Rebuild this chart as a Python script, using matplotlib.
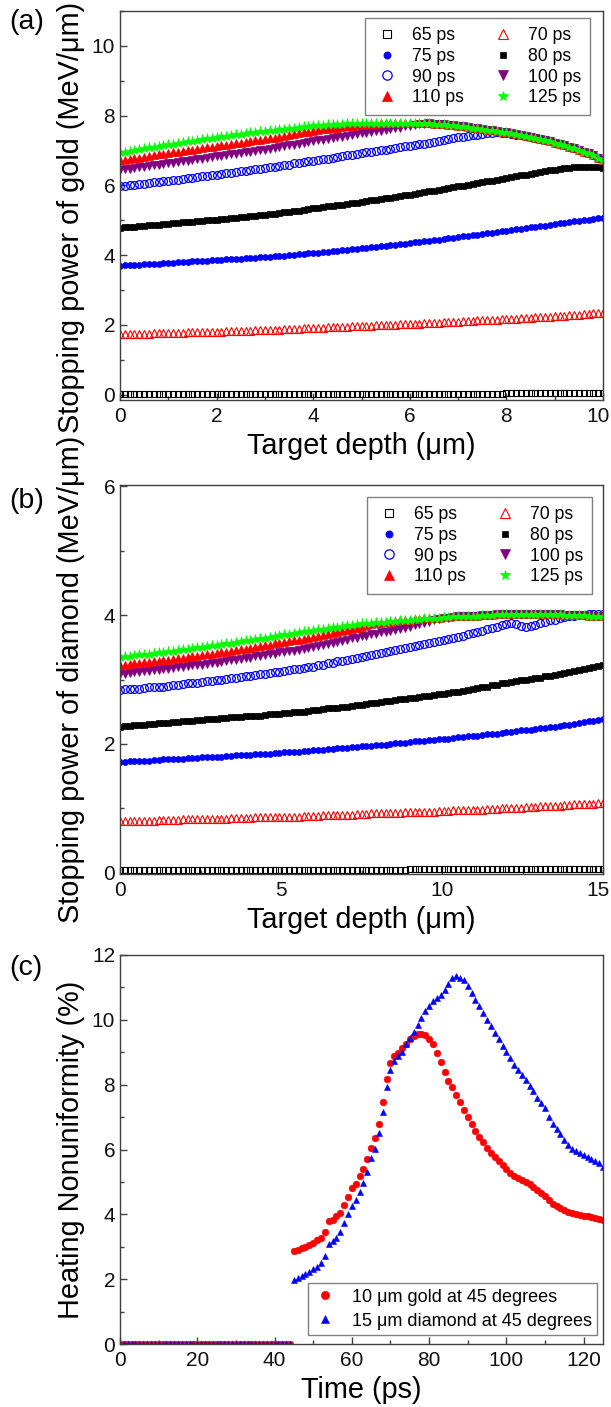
import numpy as np
import matplotlib
matplotlib.use("Agg")
import matplotlib.pyplot as plt
from matplotlib.ticker import MultipleLocator
from matplotlib.transforms import ScaledTranslation

plt.rcParams['font.family'] = ['Liberation Sans', 'DejaVu Sans']

# ---------------- data ----------------
times_labels = ["65 ps", "70 ps", "75 ps", "80 ps", "90 ps", "100 ps", "110 ps", "125 ps"]

depth_gold = np.linspace(0, 10, 101)
depth_diamond = np.linspace(0, 15, 101)

gold_65 = [
    0.02, 0.02, 0.02, 0.02, 0.02, 0.02, 0.02, 0.02, 0.02, 0.02, 0.02,
    0.02, 0.02, 0.02, 0.02, 0.02, 0.02, 0.02, 0.02, 0.02, 0.02,
    0.02, 0.02, 0.02, 0.02, 0.02, 0.02, 0.02, 0.02, 0.02, 0.02,
    0.02, 0.02, 0.02, 0.02, 0.02, 0.02, 0.02, 0.02, 0.02, 0.02,
    0.02, 0.02, 0.02, 0.02, 0.02, 0.02, 0.02, 0.02, 0.02, 0.03,
    0.03, 0.03, 0.03, 0.03, 0.03, 0.03, 0.03, 0.03, 0.03, 0.03,
    0.03, 0.03, 0.03, 0.03, 0.03, 0.03, 0.03, 0.03, 0.03, 0.03,
    0.03, 0.03, 0.03, 0.03, 0.03, 0.03, 0.03, 0.03, 0.03, 0.04,
    0.04, 0.04, 0.04, 0.04, 0.04, 0.04, 0.04, 0.04, 0.04, 0.05,
    0.05, 0.05, 0.05, 0.05, 0.05, 0.06, 0.06, 0.06, 0.06, 0.06]
gold_70 = [
    1.73, 1.73, 1.74, 1.74, 1.75, 1.75, 1.75, 1.76, 1.76, 1.77, 1.77,
    1.77, 1.78, 1.78, 1.79, 1.79, 1.79, 1.80, 1.80, 1.81, 1.81,
    1.81, 1.82, 1.82, 1.83, 1.83, 1.84, 1.84, 1.85, 1.85, 1.86,
    1.86, 1.87, 1.87, 1.88, 1.88, 1.89, 1.89, 1.90, 1.90, 1.91,
    1.92, 1.92, 1.93, 1.93, 1.94, 1.94, 1.95, 1.96, 1.96, 1.97,
    1.98, 1.98, 1.99, 1.99, 2.00, 2.00, 2.01, 2.02, 2.02, 2.03,
    2.04, 2.04, 2.05, 2.06, 2.06, 2.07, 2.08, 2.08, 2.09, 2.10,
    2.11, 2.11, 2.12, 2.13, 2.13, 2.14, 2.15, 2.15, 2.16, 2.17,
    2.18, 2.18, 2.19, 2.20, 2.21, 2.22, 2.22, 2.23, 2.24, 2.25,
    2.26, 2.27, 2.28, 2.29, 2.30, 2.31, 2.32, 2.33, 2.34, 2.35]
gold_75 = [
    3.70, 3.71, 3.72, 3.72, 3.73, 3.74, 3.75, 3.76, 3.76, 3.77, 3.78,
    3.79, 3.80, 3.80, 3.81, 3.82, 3.83, 3.84, 3.84, 3.85, 3.86,
    3.87, 3.88, 3.89, 3.90, 3.90, 3.91, 3.92, 3.93, 3.94, 3.95,
    3.96, 3.97, 3.98, 3.99, 4.00, 4.02, 4.03, 4.04, 4.05, 4.06,
    4.07, 4.09, 4.10, 4.12, 4.13, 4.14, 4.16, 4.17, 4.19, 4.20,
    4.21, 4.23, 4.24, 4.26, 4.27, 4.29, 4.30, 4.32, 4.33, 4.35,
    4.37, 4.38, 4.40, 4.42, 4.43, 4.45, 4.47, 4.49, 4.50, 4.52,
    4.54, 4.56, 4.58, 4.59, 4.61, 4.63, 4.65, 4.67, 4.68, 4.70,
    4.72, 4.74, 4.76, 4.78, 4.80, 4.81, 4.83, 4.85, 4.87, 4.89,
    4.91, 4.93, 4.95, 4.97, 4.99, 5.00, 5.02, 5.04, 5.06, 5.08]
gold_80 = [
    4.79, 4.80, 4.81, 4.82, 4.83, 4.84, 4.86, 4.87, 4.88, 4.89, 4.90,
    4.91, 4.92, 4.94, 4.95, 4.96, 4.97, 4.98, 5.00, 5.01, 5.02,
    5.03, 5.05, 5.06, 5.08, 5.09, 5.10, 5.12, 5.13, 5.15, 5.16,
    5.18, 5.19, 5.21, 5.23, 5.25, 5.27, 5.28, 5.30, 5.32, 5.34,
    5.36, 5.38, 5.40, 5.42, 5.44, 5.45, 5.47, 5.49, 5.51, 5.53,
    5.55, 5.57, 5.59, 5.61, 5.63, 5.65, 5.68, 5.70, 5.72, 5.74,
    5.76, 5.78, 5.81, 5.83, 5.85, 5.88, 5.90, 5.92, 5.95, 5.97,
    5.99, 6.02, 6.04, 6.07, 6.09, 6.12, 6.14, 6.17, 6.19, 6.22,
    6.24, 6.27, 6.29, 6.31, 6.34, 6.36, 6.38, 6.41, 6.43, 6.45,
    6.47, 6.49, 6.50, 6.52, 6.53, 6.54, 6.54, 6.53, 6.52, 6.50]
gold_90 = [
    5.97, 5.99, 6.00, 6.02, 6.04, 6.05, 6.07, 6.09, 6.11, 6.12, 6.14,
    6.16, 6.17, 6.19, 6.21, 6.22, 6.24, 6.26, 6.28, 6.29, 6.31,
    6.33, 6.35, 6.37, 6.39, 6.40, 6.42, 6.44, 6.46, 6.48, 6.50,
    6.52, 6.54, 6.56, 6.58, 6.60, 6.63, 6.65, 6.67, 6.69, 6.71,
    6.73, 6.75, 6.77, 6.80, 6.82, 6.84, 6.86, 6.88, 6.91, 6.93,
    6.95, 6.97, 6.99, 7.01, 7.03, 7.05, 7.08, 7.10, 7.12, 7.14,
    7.16, 7.18, 7.20, 7.22, 7.25, 7.27, 7.30, 7.32, 7.35, 7.38,
    7.40, 7.42, 7.44, 7.46, 7.48, 7.50, 7.51, 7.52, 7.51, 7.50,
    7.48, 7.46, 7.44, 7.41, 7.38, 7.35, 7.32, 7.29, 7.26, 7.23,
    7.19, 7.15, 7.11, 7.07, 7.02, 6.97, 6.92, 6.86, 6.80, 6.74]
gold_100 = [
    6.45, 6.47, 6.48, 6.50, 6.52, 6.54, 6.56, 6.58, 6.60, 6.61, 6.63,
    6.65, 6.67, 6.69, 6.71, 6.73, 6.75, 6.77, 6.79, 6.81, 6.83,
    6.85, 6.87, 6.89, 6.91, 6.93, 6.95, 6.97, 6.99, 7.01, 7.03,
    7.05, 7.08, 7.10, 7.13, 7.15, 7.17, 7.20, 7.22, 7.25, 7.27,
    7.29, 7.31, 7.34, 7.36, 7.38, 7.40, 7.42, 7.45, 7.47, 7.49,
    7.51, 7.53, 7.55, 7.57, 7.60, 7.62, 7.64, 7.66, 7.69, 7.71,
    7.74, 7.76, 7.77, 7.78, 7.77, 7.76, 7.75, 7.73, 7.72, 7.71,
    7.69, 7.68, 7.66, 7.64, 7.62, 7.60, 7.58, 7.56, 7.54, 7.52,
    7.49, 7.47, 7.44, 7.41, 7.38, 7.35, 7.32, 7.29, 7.26, 7.23,
    7.19, 7.15, 7.11, 7.07, 7.02, 6.97, 6.92, 6.86, 6.80, 6.74]
gold_110 = [
    6.72, 6.74, 6.76, 6.78, 6.80, 6.82, 6.85, 6.87, 6.89, 6.91, 6.93,
    6.95, 6.97, 6.99, 7.01, 7.03, 7.05, 7.07, 7.09, 7.11, 7.13,
    7.15, 7.17, 7.19, 7.21, 7.23, 7.25, 7.27, 7.29, 7.31, 7.33,
    7.35, 7.37, 7.40, 7.42, 7.44, 7.47, 7.49, 7.52, 7.54, 7.57,
    7.59, 7.61, 7.62, 7.64, 7.66, 7.68, 7.69, 7.71, 7.72, 7.74,
    7.75, 7.76, 7.77, 7.78, 7.79, 7.79, 7.80, 7.80, 7.80, 7.80,
    7.80, 7.79, 7.79, 7.78, 7.77, 7.76, 7.75, 7.73, 7.72, 7.71,
    7.69, 7.68, 7.66, 7.64, 7.62, 7.60, 7.58, 7.56, 7.54, 7.52,
    7.49, 7.47, 7.44, 7.41, 7.38, 7.35, 7.32, 7.29, 7.26, 7.23,
    7.19, 7.15, 7.11, 7.07, 7.02, 6.97, 6.92, 6.86, 6.80, 6.74]
gold_125 = [
    6.95, 6.97, 7.00, 7.02, 7.04, 7.07, 7.09, 7.11, 7.14, 7.16, 7.18,
    7.20, 7.22, 7.24, 7.26, 7.28, 7.31, 7.33, 7.35, 7.37, 7.39,
    7.41, 7.43, 7.45, 7.47, 7.48, 7.50, 7.52, 7.54, 7.55, 7.57,
    7.59, 7.60, 7.62, 7.63, 7.65, 7.66, 7.68, 7.69, 7.71, 7.72,
    7.73, 7.74, 7.75, 7.76, 7.76, 7.77, 7.78, 7.78, 7.79, 7.79,
    7.79, 7.80, 7.80, 7.80, 7.80, 7.80, 7.80, 7.80, 7.80, 7.80,
    7.80, 7.79, 7.79, 7.78, 7.77, 7.76, 7.75, 7.73, 7.72, 7.71,
    7.69, 7.68, 7.66, 7.64, 7.62, 7.60, 7.58, 7.56, 7.54, 7.52,
    7.49, 7.47, 7.44, 7.41, 7.38, 7.35, 7.32, 7.29, 7.26, 7.23,
    7.19, 7.15, 7.11, 7.07, 7.02, 6.97, 6.92, 6.86, 6.80, 6.74]

dia_65 = [
    0.04, 0.04, 0.04, 0.04, 0.04, 0.04, 0.04, 0.04, 0.04, 0.04, 0.04,
    0.04, 0.04, 0.04, 0.04, 0.04, 0.04, 0.04, 0.04, 0.04, 0.04,
    0.04, 0.04, 0.04, 0.04, 0.04, 0.04, 0.04, 0.04, 0.04, 0.04,
    0.04, 0.04, 0.04, 0.04, 0.04, 0.04, 0.04, 0.04, 0.04, 0.04,
    0.04, 0.04, 0.04, 0.04, 0.04, 0.04, 0.04, 0.04, 0.04, 0.04,
    0.04, 0.04, 0.04, 0.04, 0.04, 0.04, 0.04, 0.04, 0.04, 0.05,
    0.05, 0.05, 0.05, 0.05, 0.05, 0.05, 0.05, 0.05, 0.05, 0.05,
    0.05, 0.05, 0.05, 0.05, 0.05, 0.05, 0.05, 0.05, 0.05, 0.05,
    0.05, 0.05, 0.05, 0.05, 0.05, 0.05, 0.05, 0.05, 0.05, 0.06,
    0.06, 0.06, 0.06, 0.06, 0.06, 0.06, 0.06, 0.06, 0.06, 0.06]
dia_70 = [
    0.80, 0.80, 0.80, 0.81, 0.81, 0.81, 0.81, 0.81, 0.82, 0.82,
    0.82, 0.82, 0.82, 0.83, 0.83, 0.83, 0.83, 0.83, 0.84, 0.84,
    0.84, 0.84, 0.84, 0.85, 0.85, 0.85, 0.85, 0.85, 0.86, 0.86,
    0.86, 0.86, 0.86, 0.87, 0.87, 0.87, 0.87, 0.87, 0.88, 0.88,
    0.88, 0.88, 0.89, 0.89, 0.89, 0.89, 0.90, 0.90, 0.90, 0.91,
    0.91, 0.91, 0.92, 0.92, 0.92, 0.92, 0.93, 0.93, 0.93, 0.94,
    0.94, 0.94, 0.95, 0.95, 0.95, 0.95, 0.96, 0.96, 0.96, 0.97,
    0.97, 0.97, 0.98, 0.98, 0.98, 0.98, 0.99, 0.99, 0.99, 1.00,
    1.00, 1.00, 1.01, 1.01, 1.02, 1.02, 1.02, 1.03, 1.03, 1.04,
    1.04, 1.04, 1.05, 1.05, 1.06, 1.06, 1.06, 1.07, 1.07, 1.08, 1.08]
dia_75 = [
    1.72, 1.72, 1.73, 1.73, 1.74, 1.74, 1.74, 1.75, 1.75, 1.76,
    1.76, 1.76, 1.77, 1.77, 1.78, 1.78, 1.78, 1.79, 1.79, 1.80,
    1.80, 1.80, 1.81, 1.81, 1.82, 1.82, 1.83, 1.83, 1.84, 1.84,
    1.85, 1.85, 1.86, 1.86, 1.87, 1.87, 1.88, 1.88, 1.89, 1.89,
    1.90, 1.91, 1.91, 1.92, 1.92, 1.93, 1.94, 1.94, 1.95, 1.95,
    1.96, 1.97, 1.97, 1.98, 1.99, 1.99, 2.00, 2.01, 2.01, 2.02,
    2.03, 2.04, 2.04, 2.05, 2.06, 2.06, 2.07, 2.08, 2.08, 2.09,
    2.10, 2.11, 2.12, 2.12, 2.13, 2.14, 2.15, 2.16, 2.16, 2.17,
    2.18, 2.19, 2.20, 2.21, 2.22, 2.22, 2.23, 2.24, 2.25, 2.26,
    2.27, 2.28, 2.29, 2.30, 2.31, 2.33, 2.34, 2.35, 2.36, 2.37, 2.38]
dia_80 = [
    2.27, 2.28, 2.28, 2.29, 2.29, 2.30, 2.31, 2.31, 2.32, 2.32,
    2.33, 2.34, 2.34, 2.35, 2.35, 2.36, 2.37, 2.37, 2.38, 2.38,
    2.39, 2.40, 2.40, 2.41, 2.41, 2.42, 2.43, 2.43, 2.44, 2.44,
    2.45, 2.46, 2.46, 2.47, 2.48, 2.48, 2.49, 2.50, 2.50, 2.51,
    2.52, 2.53, 2.54, 2.55, 2.56, 2.56, 2.57, 2.58, 2.59, 2.60,
    2.61, 2.62, 2.63, 2.64, 2.65, 2.66, 2.67, 2.68, 2.69, 2.70,
    2.71, 2.72, 2.73, 2.74, 2.75, 2.76, 2.77, 2.78, 2.79, 2.80,
    2.81, 2.82, 2.84, 2.85, 2.87, 2.88, 2.89, 2.91, 2.92, 2.94,
    2.95, 2.96, 2.97, 2.99, 3.00, 3.01, 3.02, 3.03, 3.05, 3.06,
    3.07, 3.09, 3.10, 3.12, 3.13, 3.15, 3.16, 3.18, 3.19, 3.21, 3.22]
dia_90 = [
    2.84, 2.85, 2.85, 2.86, 2.86, 2.87, 2.88, 2.88, 2.89, 2.89,
    2.90, 2.91, 2.92, 2.93, 2.94, 2.95, 2.95, 2.96, 2.97, 2.98,
    2.99, 3.00, 3.01, 3.02, 3.03, 3.04, 3.05, 3.06, 3.07, 3.08,
    3.09, 3.10, 3.11, 3.12, 3.13, 3.15, 3.16, 3.17, 3.18, 3.19,
    3.20, 3.22, 3.23, 3.25, 3.26, 3.28, 3.29, 3.31, 3.32, 3.34,
    3.35, 3.37, 3.38, 3.40, 3.41, 3.43, 3.44, 3.46, 3.47, 3.49,
    3.50, 3.52, 3.53, 3.55, 3.56, 3.58, 3.60, 3.61, 3.63, 3.64,
    3.66, 3.68, 3.70, 3.72, 3.74, 3.76, 3.78, 3.80, 3.82, 3.84,
    3.86, 3.87, 3.86, 3.83, 3.82, 3.83, 3.85, 3.88, 3.90, 3.92,
    3.93, 3.95, 3.97, 3.98, 3.99, 4.00, 4.00, 4.01, 4.01, 4.01, 4.01]
dia_100 = [
    3.08, 3.09, 3.10, 3.11, 3.12, 3.13, 3.13, 3.14, 3.15, 3.16,
    3.17, 3.18, 3.19, 3.20, 3.21, 3.22, 3.22, 3.23, 3.24, 3.25,
    3.26, 3.27, 3.28, 3.30, 3.31, 3.32, 3.33, 3.34, 3.36, 3.37,
    3.38, 3.39, 3.40, 3.42, 3.43, 3.44, 3.45, 3.46, 3.48, 3.49,
    3.50, 3.52, 3.53, 3.55, 3.57, 3.59, 3.60, 3.62, 3.64, 3.65,
    3.67, 3.68, 3.70, 3.71, 3.73, 3.74, 3.76, 3.77, 3.79, 3.80,
    3.82, 3.84, 3.86, 3.88, 3.90, 3.92, 3.94, 3.95, 3.96, 3.97,
    3.98, 3.98, 3.99, 3.99, 3.99, 4.00, 4.00, 4.00, 4.01, 4.01,
    4.01, 4.01, 4.01, 4.02, 4.02, 4.02, 4.02, 4.01, 4.01, 4.01,
    4.01, 4.01, 4.00, 4.00, 4.00, 4.00, 4.00, 3.99, 3.99, 3.99, 3.99]
dia_110 = [
    3.22, 3.23, 3.24, 3.25, 3.26, 3.27, 3.27, 3.28, 3.29, 3.30,
    3.31, 3.32, 3.33, 3.34, 3.35, 3.36, 3.37, 3.38, 3.39, 3.40,
    3.41, 3.42, 3.43, 3.45, 3.46, 3.47, 3.48, 3.49, 3.51, 3.52,
    3.53, 3.54, 3.56, 3.57, 3.58, 3.60, 3.61, 3.62, 3.63, 3.65,
    3.66, 3.68, 3.69, 3.71, 3.72, 3.74, 3.76, 3.77, 3.79, 3.80,
    3.82, 3.84, 3.86, 3.87, 3.88, 3.89, 3.90, 3.91, 3.92, 3.92,
    3.93, 3.94, 3.94, 3.95, 3.95, 3.96, 3.96, 3.97, 3.97, 3.98,
    3.98, 3.98, 3.99, 3.99, 3.99, 4.00, 4.00, 4.00, 4.01, 4.01,
    4.01, 4.01, 4.01, 4.02, 4.02, 4.02, 4.02, 4.01, 4.01, 4.01,
    4.01, 4.01, 4.00, 4.00, 4.00, 4.00, 4.00, 3.99, 3.99, 3.99, 3.99]
dia_125 = [
    3.35, 3.36, 3.37, 3.38, 3.39, 3.40, 3.40, 3.41, 3.42, 3.43,
    3.44, 3.45, 3.46, 3.47, 3.48, 3.49, 3.50, 3.51, 3.52, 3.53,
    3.54, 3.55, 3.56, 3.57, 3.58, 3.60, 3.61, 3.62, 3.63, 3.64,
    3.65, 3.66, 3.67, 3.69, 3.70, 3.71, 3.72, 3.73, 3.75, 3.76,
    3.77, 3.78, 3.79, 3.80, 3.81, 3.82, 3.83, 3.84, 3.85, 3.86,
    3.87, 3.88, 3.88, 3.89, 3.89, 3.90, 3.91, 3.91, 3.92, 3.92,
    3.93, 3.94, 3.94, 3.95, 3.95, 3.96, 3.96, 3.97, 3.97, 3.98,
    3.98, 3.98, 3.99, 3.99, 3.99, 4.00, 4.00, 4.00, 4.01, 4.01,
    4.01, 4.01, 4.01, 4.02, 4.02, 4.02, 4.02, 4.01, 4.01, 4.01,
    4.01, 4.01, 4.00, 4.00, 4.00, 4.00, 4.00, 3.99, 3.99, 3.99, 3.99]

time_ps = np.arange(0, 126, 1)
nonuni_gold = [
    0.00, 0.00, 0.00, 0.00, 0.00, 0.00, 0.00, 0.00, 0.00, 0.00,
    0.00, 0.00, 0.00, 0.00, 0.00, 0.00, 0.00, 0.00, 0.00, 0.00,
    0.00, 0.00, 0.00, 0.00, 0.00, 0.00, 0.00, 0.00, 0.00, 0.00,
    0.00, 0.00, 0.00, 0.00, 0.00, 0.00, 0.00, 0.00, 0.00, 0.00,
    0.00, 0.00, 0.00, 0.00, 0.00,
    2.87, 2.90, 2.95, 3.00, 3.06, 3.12, 3.20, 3.27, 3.45, 3.79,
    3.84, 3.94, 4.05, 4.28, 4.55, 4.80, 4.93, 5.17, 5.41, 5.72,
    6.06, 6.34, 6.80, 7.45, 8.19, 8.67, 8.88, 8.99, 9.12, 9.26,
    9.40, 9.50, 9.55, 9.57, 9.52, 9.42, 9.25, 8.98, 8.71, 8.40,
    8.10, 7.92, 7.68, 7.45, 7.22, 7.00, 6.78, 6.57, 6.38, 6.22,
    6.05, 5.90, 5.76, 5.63, 5.52, 5.40, 5.29, 5.19, 5.11, 5.05,
    4.99, 4.93, 4.85, 4.76, 4.67, 4.56, 4.44, 4.32, 4.27, 4.20,
    4.13, 4.07, 4.03, 4.00, 3.98, 3.96, 3.94, 3.91, 3.88, 3.85, 3.82]
nonuni_diamond = [
    0.00, 0.00, 0.00, 0.00, 0.00, 0.00, 0.00, 0.00, 0.00, 0.00,
    0.00, 0.00, 0.00, 0.00, 0.00, 0.00, 0.00, 0.00, 0.00, 0.00,
    0.00, 0.00, 0.00, 0.00, 0.00, 0.00, 0.00, 0.00, 0.00, 0.00,
    0.00, 0.00, 0.00, 0.00, 0.00, 0.00, 0.00, 0.00, 0.00, 0.00,
    0.00, 0.00, 0.00, 0.00, 0.00,
    1.98, 2.03, 2.09, 2.15, 2.22, 2.30, 2.37, 2.50, 2.72, 3.08,
    3.17, 3.28, 3.45, 3.72, 4.00, 4.26, 4.45, 4.70, 4.96, 5.32,
    5.73, 6.03, 6.50, 7.16, 7.93, 8.46, 8.72, 8.87, 9.02, 9.24,
    9.43, 9.64, 9.85, 10.07, 10.26, 10.43, 10.58, 10.67, 10.77, 10.92,
    11.10, 11.30, 11.34, 11.28, 11.23, 11.05, 10.82, 10.62, 10.42, 10.20,
    9.99, 9.80, 9.60, 9.42, 9.20, 9.00, 8.82, 8.62, 8.45, 8.30,
    8.14, 7.97, 7.79, 7.60, 7.44, 7.28, 7.00, 6.80, 6.63, 6.47,
    6.30, 6.13, 6.02, 5.94, 5.88, 5.84, 5.77, 5.72, 5.66, 5.58, 5.47]

# ---------------- styles ----------------
styles = [
    dict(marker='s', mfc='none', mec='black', ms=4.6, mew=0.8),
    dict(marker='^', mfc='none', mec='red', ms=5.8, mew=0.8),
    dict(marker='o', mfc='blue', mec='blue', ms=4.3, mew=0.5),
    dict(marker='s', mfc='black', mec='black', ms=3.8, mew=0.5),
    dict(marker='o', mfc='none', mec='blue', ms=5.6, mew=0.9),
    dict(marker='v', mfc='#800080', mec='#800080', ms=5.8, mew=0.5),
    dict(marker='^', mfc='red', mec='red', ms=5.8, mew=0.5),
    dict(marker='*', mfc='#00ff00', mec='#00ff00', ms=6.5, mew=0.5),
]

fig = plt.figure(figsize=(6.11, 14.07), dpi=100)
W, H = 611.0, 1407.0
L, R = 120, 603
LABEL_FS = 20.8
TICK_FS = 15
YLAB_X = -0.072

def make_ax(top, bottom):
    return fig.add_axes([L / W, 1 - bottom / H, (R - L) / W, (bottom - top) / H])

def style_ax(ax):
    for s in ax.spines.values():
        s.set_color('#404040')
        s.set_linewidth(1.0)
    ax.tick_params(which='both', direction='in', top=False, right=False,
                   labelsize=TICK_FS, colors='#404040', labelcolor='#111111')
    ax.tick_params(axis='x', which='major', pad=5)
    ax.tick_params(which='major', length=5, width=1)
    ax.tick_params(which='minor', length=3, width=1)

def shift_last_xlabel(ax, text):
    for lab in ax.get_xticklabels():
        if lab.get_text() == text:
            lab.set_transform(lab.get_transform() +
                              ScaledTranslation(-5 / 100, 0, fig.dpi_scale_trans))

def legend_grid(ax, handles, anchor):
    order = [0, 2, 4, 6, 1, 3, 5, 7]
    leg = ax.legend([handles[i] for i in order], [times_labels[i] for i in order],
                    ncol=2, loc='upper right', bbox_to_anchor=anchor,
                    fontsize=12.7, numpoints=1, markerscale=1.2,
                    handlelength=1.5, handletextpad=0.65, columnspacing=1.5,
                    labelspacing=0.22, borderpad=0.5, borderaxespad=0.0,
                    fancybox=False, framealpha=1, edgecolor='#808080')
    leg.get_frame().set_linewidth(1.0)

# ---- panel (a) ----
ax_a = make_ax(11, 400)
gold_series = [gold_65, gold_70, gold_75, gold_80, gold_90, gold_100, gold_110, gold_125]
ha = []
for ys, st in zip(gold_series, styles):
    h, = ax_a.plot(depth_gold, ys, linestyle='none', **st)
    ha.append(h)
ax_a.set_xlim(0, 10)
ax_a.set_ylim(-0.15, 11.0)
ax_a.xaxis.set_major_locator(MultipleLocator(2))
ax_a.xaxis.set_minor_locator(MultipleLocator(1))
ax_a.yaxis.set_major_locator(MultipleLocator(2))
ax_a.yaxis.set_minor_locator(MultipleLocator(1))
style_ax(ax_a)
ax_a.set_xlabel('Target depth (\u03bcm)', fontsize=LABEL_FS, labelpad=4)
ax_a.set_ylabel('Stopping power of gold (MeV/\u03bcm)', fontsize=LABEL_FS)
ax_a.yaxis.set_label_coords(YLAB_X, 0.47)
legend_grid(ax_a, ha, ((590 - L) / (R - L), (400 - 18) / 389))

# ---- panel (b) ----
ax_b = make_ax(485, 874)
dia_series = [dia_65, dia_70, dia_75, dia_80, dia_90, dia_100, dia_110, dia_125]
hb = []
for ys, st in zip(dia_series, styles):
    h, = ax_b.plot(depth_diamond, ys, linestyle='none', **st)
    hb.append(h)
ax_b.set_xlim(0, 15)
ax_b.set_ylim(-0.02, 6.02)
ax_b.xaxis.set_major_locator(MultipleLocator(5))
ax_b.xaxis.set_minor_locator(MultipleLocator(2.5))
ax_b.yaxis.set_major_locator(MultipleLocator(2))
ax_b.yaxis.set_minor_locator(MultipleLocator(1))
style_ax(ax_b)
ax_b.set_xlabel('Target depth (\u03bcm)', fontsize=LABEL_FS, labelpad=4)
ax_b.set_ylabel('Stopping power of diamond (MeV/\u03bcm)', fontsize=LABEL_FS)
ax_b.yaxis.set_label_coords(YLAB_X, 0.5)
legend_grid(ax_b, hb, ((592 - L) / (R - L), (874 - 497) / 389))

# ---- panel (c) ----
ax_c = make_ax(955, 1344)
ax_c.plot(time_ps, nonuni_gold, linestyle='none', marker='o', ms=4.8,
          mfc='red', mec='red', mew=0.4, label='10 \u03bcm gold at 45 degrees')
ax_c.plot(time_ps, nonuni_diamond, linestyle='none', marker='^', ms=5.0,
          mfc='blue', mec='blue', mew=0.4, label='15 \u03bcm diamond at 45 degrees')
ax_c.set_xlim(0, 125)
ax_c.set_ylim(0, 12)
ax_c.xaxis.set_major_locator(MultipleLocator(20))
ax_c.xaxis.set_minor_locator(MultipleLocator(10))
ax_c.yaxis.set_major_locator(MultipleLocator(2))
ax_c.yaxis.set_minor_locator(MultipleLocator(1))
style_ax(ax_c)
ax_c.set_xlabel('Time (ps)', fontsize=LABEL_FS, labelpad=4)
ax_c.set_ylabel('Heating Nonuniformity (%)', fontsize=LABEL_FS)
ax_c.yaxis.set_label_coords(YLAB_X, 0.5)
legc = ax_c.legend(loc='lower right', bbox_to_anchor=((597 - L) / (R - L), (1344 - 1335) / 389),
                   fontsize=13, numpoints=1, markerscale=1.25,
                   handlelength=1.3, handletextpad=0.8, labelspacing=0.38,
                   borderpad=0.3, borderaxespad=0.0, fancybox=False,
                   framealpha=1, edgecolor='#808080')
legc.get_frame().set_linewidth(1.0)

shift_last_xlabel(ax_a, '10')
shift_last_xlabel(ax_b, '15')

# panel letters
fig.text(9 / W, 1 - 22 / H, '(a)', fontsize=20.5, va='center', ha='left')
fig.text(9 / W, 1 - 501 / H, '(b)', fontsize=20.5, va='center', ha='left')
fig.text(9 / W, 1 - 968 / H, '(c)', fontsize=20.5, va='center', ha='left')

fig.savefig('out.png', dpi=100)
